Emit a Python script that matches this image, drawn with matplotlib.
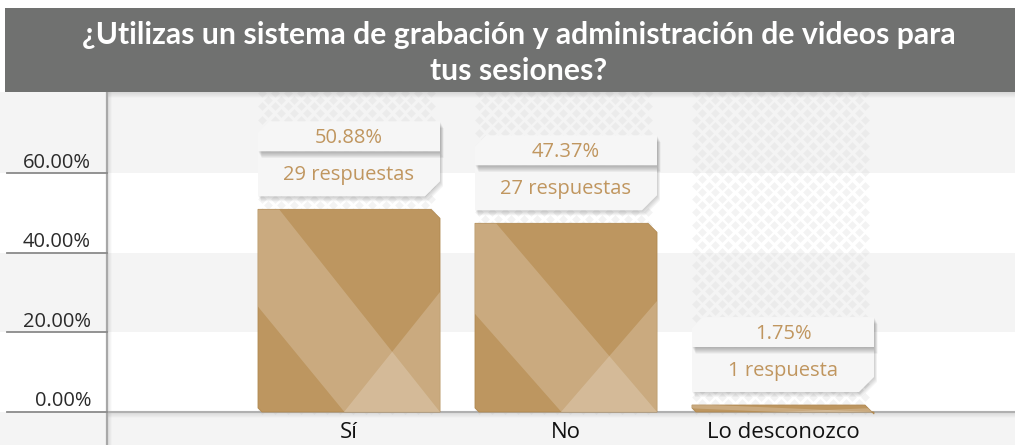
import matplotlib
matplotlib.use("Agg")
import matplotlib.pyplot as plt
from matplotlib.patches import Polygon, Rectangle
import numpy as np

categories = ["Sí", "No", "Lo desconozco"]
percentages = [50.88, 47.37, 1.75]
counts_text = ["29 respuestas", "27 respuestas", "1 respuesta"]
yticks = [0, 20, 40, 60]
ytick_labels = ["0.00%", "20.00%", "40.00%", "60.00%"]
title = "¿Utilizas un sistema de grabación y administración de videos para\ntus sesiones?"

W, H = 1015, 445
fig = plt.figure(figsize=(W / 100, H / 100), dpi=100)
fig.patch.set_facecolor("white")

PX_X = 217.0
PX_Y = 3.983
X0PX = 349.0
Y0PX = 412.0
TOP_PX = 92.0

ax = fig.add_axes([0, 0, 1, (H - TOP_PX) / H])
ax.set_xlim((0 - X0PX) / PX_X, (W - X0PX) / PX_X)
ax.set_ylim(-(H - Y0PX) / PX_Y, (Y0PX - TOP_PX) / PX_Y)
ax.axis("off")
dx = 1 / PX_X
dy = 1 / PX_Y

axis_x = (107 - X0PX) / PX_X
tick_x0 = (7 - X0PX) / PX_X
ymin, ymax = ax.get_ylim()
xmin, xmax = ax.get_xlim()

band_edges = [ymin, 0, 20, 40, 60, ymax]
band_cols = ["#f4f4f4", "#ffffff", "#f4f4f4", "#ffffff", "#f4f4f4"]
for (a, b), c in zip(zip(band_edges[:-1], band_edges[1:]), band_cols):
    ax.add_patch(Rectangle((xmin, a), xmax - xmin, b - a, fc=c, ec="none", zorder=0))

bar_w = 182 / PX_X
gold = "#bd9660"
txt_gold = "#c0965f"

# diamond pattern columns
for i in range(len(categories)):
    x_left = i - bar_w / 2 + 4 * dx
    x_right = i + bar_w / 2 - 3 * dx
    xs_a = np.arange(x_left, x_right, 13 * dx)
    ys = np.arange(2 * dy, ymax, 6.6 * dy)
    pts_x, pts_y = [], []
    for k, yv in enumerate(ys):
        off = 0 if k % 2 == 0 else 6.5 * dx
        xx = xs_a + off
        xx = xx[xx <= x_right]
        pts_x.extend(xx)
        pts_y.extend([yv] * len(xx))
    ax.scatter(pts_x, pts_y, marker="D", s=20, c="#d8d8d8", alpha=0.3,
               linewidths=0, zorder=1)

# axis lines with soft shadow
for k in range(4):
    ax.plot([axis_x + (k + 1) * dx, axis_x + (k + 1) * dx], [ymin, ymax],
            color="#000000", alpha=0.05 - k * 0.01, lw=1.2, zorder=2)
ax.plot([axis_x, axis_x], [ymin, ymax], color="#a8a8a8", lw=1.6, zorder=3)
for k in range(5):
    ax.plot([axis_x, xmax], [-(k + 1) * dy, -(k + 1) * dy],
            color="#000000", alpha=0.06 - k * 0.011, lw=1.2, zorder=2)
for k in range(6):
    ax.plot([axis_x, xmax], [ymax - k * dy, ymax - k * dy],
            color="#000000", alpha=0.07 - k * 0.011, lw=1.2, zorder=2)
ax.plot([axis_x, xmax], [0, 0], color="#b0b0b0", lw=1.5, zorder=3)

# y ticks
for yv, lab in zip(yticks, ytick_labels):
    ax.plot([tick_x0, axis_x], [yv, yv], color="#8a8a8a", lw=1.3, zorder=3)
    ax.text((91 - X0PX) / PX_X, yv + 0.5 * dy, lab, ha="right", va="bottom",
            fontsize=14.5, color="#2a2a2a", family="Open Sans", zorder=4)


def poly(pts, **kw):
    p = Polygon(pts, closed=True, **kw)
    ax.add_patch(p)
    return p


for i, (cat, val, cnt) in enumerate(zip(categories, percentages, counts_text)):
    x0 = i - bar_w / 2
    x1 = i + bar_w / 2
    c = 9
    bl = 4
    bar_pts = [(x0, 0 + bl * dy), (x0 + bl * dx, 0), (x1, 0), (x1, val - c * dy),
               (x1 - c * dx, val), (x0, val)]
    bar = poly(bar_pts, fc=gold, ec="#b08850", lw=0.6, zorder=5)
    bw = x1 - x0
    hh = val

    def m(u, t):
        return (x0 + u * bw, val - t * hh)

    band = poly([m(0, 0), m(0.116, 0), m(1, 1), m(0.475, 1), m(0, 0.48)],
                fc="white", ec="none", alpha=0.2, zorder=6)
    band.set_clip_path(bar)
    tri = poly([m(1, 0.41), m(1, 1), m(0.475, 1)], fc="white", ec="none",
               alpha=0.2, zorder=6)
    tri.set_clip_path(bar)

    # label boxes
    lb0 = val + 13 * dy
    lb1 = val + 58 * dy
    ub0 = val + 58 * dy
    ub1 = val + 88 * dy
    ch = 11
    cr = 15
    low_pts = [(x0, lb0), (x1 - cr * dx, lb0), (x1, lb0 + cr * dy), (x1, lb1), (x0, lb1)]
    up_pts = [(x0, ub0), (x1, ub0), (x1, ub1), (x0 + ch * dx, ub1), (x0, ub1 - ch * dy)]
    for k in range(1, 6):
        sh = [(px + 0.6 * k * dx, py - 1.0 * k * dy) for px, py in low_pts]
        poly(sh, fc="black", ec="none", alpha=0.04, zorder=7)
    poly(low_pts, fc="#f6f6f6", ec="none", zorder=7.2)
    for k in range(1, 7):
        sh = [(px + 0.6 * k * dx, py - 1.1 * k * dy) for px, py in up_pts]
        poly(sh, fc="black", ec="none", alpha=0.05, zorder=7.5)
    poly(up_pts, fc="#f6f6f6", ec="none", zorder=8)

    ax.text(i, val + 71 * dy, f"{val:.2f}%", ha="center", va="center",
            fontsize=14.5, color=txt_gold, family="Open Sans", zorder=9)
    ax.text(i, val + 34 * dy, cnt, ha="center", va="center",
            fontsize=14.5, color=txt_gold, family="Open Sans", zorder=9)

    ax.text(i, -21 * dy, cat, ha="center", va="center", fontsize=16,
            color="#111111", family="Open Sans", zorder=9)

# title band
fig.patches.append(Rectangle((5 / W, (H - 92) / H), (W - 5) / W, 84 / H,
                             transform=fig.transFigure, fc="#707170", ec="none",
                             zorder=10))
fig.text(519 / W, (H - 53) / H, title, ha="center", va="center", color="white",
         fontsize=21.7, fontweight="bold", family="Lato", linespacing=1.38,
         zorder=11)

fig.savefig("out.png", dpi=100, facecolor="white")
